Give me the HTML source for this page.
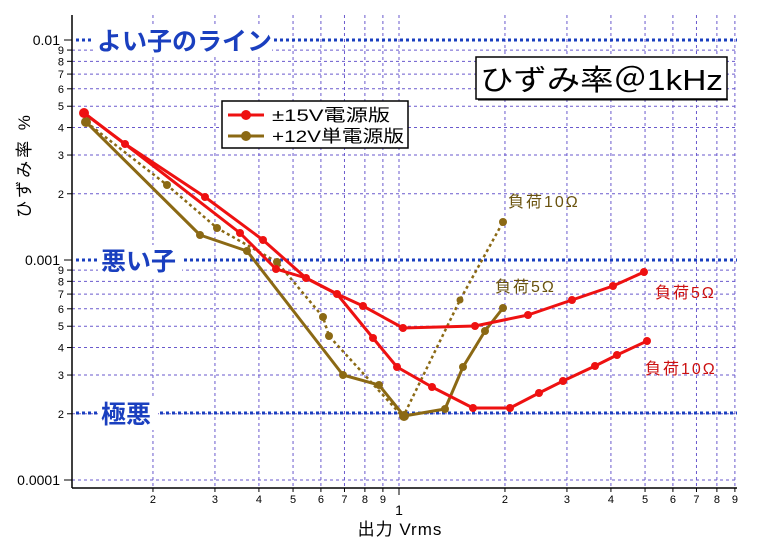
<!DOCTYPE html>
<html><head><meta charset="utf-8"><style>
html,body{margin:0;padding:0;background:#fff;}
svg text{font-family:"Liberation Sans","Noto Sans CJK JP",sans-serif;}
</style></head><body>
<svg width="768" height="540" viewBox="0 0 768 540" xmlns="http://www.w3.org/2000/svg">
<rect width="768" height="540" fill="#fff"/>
<g id="grid" stroke="#6a5acd" stroke-width="1" stroke-dasharray="3,3" fill="none"></g>
<g id="ticks" stroke="#000" stroke-width="1"></g>
<g id="ylab" font-size="11" fill="#000" text-anchor="end"></g>
<g id="xlab" font-size="11" fill="#000" text-anchor="middle"></g>
<line x1="72" y1="15" x2="72" y2="488" stroke="#000" stroke-width="1.5"/>
<line x1="72" y1="488" x2="737" y2="488" stroke="#000" stroke-width="1.5"/>
<text x="60" y="45" font-size="14" text-anchor="end">0.01</text>
<text x="60" y="265" font-size="14" text-anchor="end">0.001</text>
<text x="60" y="485" font-size="14" text-anchor="end">0.0001</text>
<text x="399" y="515" font-size="14" text-anchor="middle">1</text>
<text x="400" y="535" font-size="17" text-anchor="middle" letter-spacing="1">出力  Vrms</text>
<text transform="translate(30,165) rotate(-90)" font-size="17" text-anchor="middle" letter-spacing="3">ひずみ率  %</text>
<g stroke="#1a3fbf" stroke-width="3" stroke-dasharray="3,3">
<line x1="76" y1="40" x2="737" y2="40"/>
<line x1="76" y1="260" x2="737" y2="260"/>
<line x1="76" y1="413" x2="737" y2="413"/>
</g>
<g font-size="25" font-weight="bold" fill="#1a3fbf">
<rect x="94" y="24" width="178" height="32" fill="#fff"/>
<text x="97" y="50">よい子のライン</text>
<rect x="98" y="245" width="84" height="32" fill="#fff"/>
<text x="101" y="270">悪い子</text>
<rect x="98" y="398" width="60" height="32" fill="#fff"/>
<text x="101" y="423">極悪</text>
</g>
<rect x="476" y="57" width="251" height="42" fill="#fff" stroke="#000" stroke-width="1.5"/>
<line x1="478" y1="100" x2="728" y2="100" stroke="#000" stroke-width="1"/>
<text x="480" y="90" font-size="29" textLength="243" lengthAdjust="spacingAndGlyphs">ひずみ率＠1kHz</text>
<g fill="none" stroke-linejoin="round">
<polyline stroke="#8b6914" stroke-width="2.5" stroke-dasharray="3,3" points="86,122 167,185 217,228 277,262 323,317 329,336 403,417 460,300 503,222"/>
<polyline stroke="#8b6914" stroke-width="3" points="86,122 200,235 247,251 343,375 379,385 404,416 445,409 463,367 485,331 503,308"/>
<polyline stroke="#ee1111" stroke-width="3" points="84,113 125,144 205,197 263,240 306,278 337,294 373,338 397,367 432,387 473,408 510,408 539,393 563,381 595,366 617,355 647,341"/>
<polyline stroke="#ee1111" stroke-width="3" points="84,113 125,144 240,233 276,269 306,278 337,294 363,306 403,328 475,326 528,315 572,300 613,286 644,272"/>
</g>
<g fill="#8b6914">
<circle cx="86" cy="122" r="5"/><circle cx="167" cy="185" r="4"/><circle cx="217" cy="228" r="4"/><circle cx="277" cy="262" r="4"/><circle cx="323" cy="317" r="4"/><circle cx="329" cy="336" r="4"/><circle cx="460" cy="300" r="3.5"/><circle cx="503" cy="222" r="4"/>
<circle cx="200" cy="235" r="4"/><circle cx="247" cy="251" r="4"/><circle cx="343" cy="375" r="4"/><circle cx="379" cy="385" r="4"/><circle cx="404" cy="416" r="5"/><circle cx="445" cy="409" r="4"/><circle cx="463" cy="367" r="4"/><circle cx="485" cy="331" r="4"/><circle cx="503" cy="308" r="4"/>
</g>
<g fill="#ee1111">
<circle cx="84" cy="113" r="5"/><circle cx="125" cy="144" r="4"/><circle cx="205" cy="197" r="4"/><circle cx="263" cy="240" r="4"/><circle cx="306" cy="278" r="4"/><circle cx="337" cy="294" r="4"/><circle cx="373" cy="338" r="4"/><circle cx="397" cy="367" r="4"/><circle cx="432" cy="387" r="4"/><circle cx="473" cy="408" r="4"/><circle cx="510" cy="408" r="4"/><circle cx="539" cy="393" r="4"/><circle cx="563" cy="381" r="4"/><circle cx="595" cy="366" r="4"/><circle cx="617" cy="355" r="4"/><circle cx="647" cy="341" r="4"/>
<circle cx="240" cy="233" r="4"/><circle cx="276" cy="269" r="4"/><circle cx="363" cy="306" r="4"/><circle cx="403" cy="328" r="4"/><circle cx="475" cy="326" r="4"/><circle cx="528" cy="315" r="4"/><circle cx="572" cy="300" r="4"/><circle cx="613" cy="286" r="4"/><circle cx="644" cy="272" r="4"/>
</g>
<g font-size="16" letter-spacing="2">
<text x="508" y="207" fill="#6b5410">負荷10Ω</text>
<text x="495" y="292" fill="#6b5410">負荷5Ω</text>
<text x="655" y="298" fill="#cc1111">負荷5Ω</text>
<text x="645" y="374" fill="#cc1111">負荷10Ω</text>
</g>
<rect x="222" y="101" width="186" height="47" fill="#fff" stroke="#000" stroke-width="1.5"/>
<line x1="228" y1="115" x2="264" y2="115" stroke="#ee1111" stroke-width="3"/>
<circle cx="246" cy="115" r="5" fill="#ee1111"/>
<line x1="228" y1="136" x2="264" y2="136" stroke="#8b6914" stroke-width="3"/>
<circle cx="246" cy="136" r="5" fill="#8b6914"/>
<text x="272" y="121" font-size="17" textLength="118" lengthAdjust="spacingAndGlyphs">±15V電源版</text>
<text x="272" y="142" font-size="17" textLength="132" lengthAdjust="spacingAndGlyphs">+12V単電源版</text>
<script>
(function(){
var ns="http://www.w3.org/2000/svg";
function el(p,t,a,txt){var e=document.createElementNS(ns,t);for(var k in a)e.setAttribute(k,a[k]);if(txt!=null)e.textContent=txt;document.getElementById(p).appendChild(e);}
function X(v){return 399+352*Math.log10(v);}
function Y(v){return 260-220*Math.log10(v/0.001);}
for(var d=0;d<2;d++){var base=d==0?0.1:1;for(var m=(d==0?2:1);m<=9;m++){var v=base*m,x=X(v);if(x<72||x>737)continue;
el("grid","line",{x1:x,y1:15,x2:x,y2:488});
el("ticks","line",{x1:x,y1:488,x2:x,y2:(m==1?495:492)});
if(m!=1)el("xlab","text",{x:x,y:503},String(m));}}
[0.0001,0.001,0.01].forEach(function(b){for(var m=1;m<=9;m++){var v=b*m,y=Y(v);if(y<15||y>488)continue;
if(m!=1||b==0.0001)el("grid","line",{x1:72,y1:y,x2:737,y2:y});
el("ticks","line",{x1:m==1?64:67,y1:y,x2:72,y2:y});
if(m!=1)el("ylab","text",{x:64,y:y+4},String(m));}});
})();
</script>
</svg>
</body></html>
